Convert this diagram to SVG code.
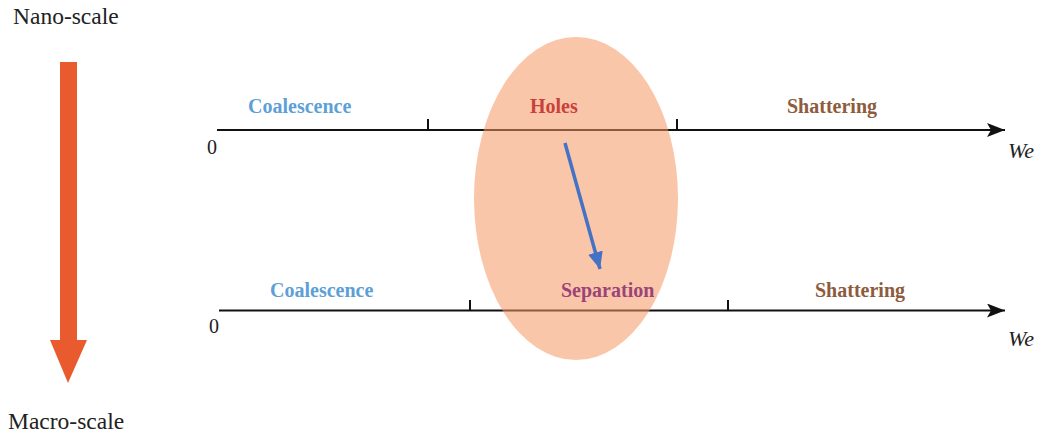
<svg xmlns="http://www.w3.org/2000/svg" width="1038" height="435" viewBox="0 0 1038 435">
<style>
.t{font-family:"Liberation Serif","Times New Roman",serif;fill:#222}
.b{font-family:"Liberation Serif","Times New Roman",serif;font-weight:bold;font-size:20px}
.ax{stroke:#111;stroke-width:2;fill:none}
.coal{fill:#5E9FD6}.hole{fill:#C8413B}.shat{fill:#8E5B3B}.sep{fill:#9C4477}
</style>
<defs>
<marker id="ah" markerWidth="18" markerHeight="14" refX="18" refY="7" orient="auto" markerUnits="userSpaceOnUse">
<path d="M0,0 L18,7 L0,14 L4,7 Z" fill="#111"/>
</marker>
<marker id="bh" markerWidth="17" markerHeight="15" refX="17" refY="7.5" orient="auto" markerUnits="userSpaceOnUse">
<path d="M0,0 L17,7.5 L0,15 Z" fill="#4472C4"/>
</marker>
</defs>
<rect width="1038" height="435" fill="#fff"/>
<g id="scale-arrow">
<text class="t" x="13" y="24" font-size="23.5">Nano-scale</text>
<path d="M60,62 H77 V340 H87 L68,383 L50,340 H60 Z" fill="#EA5A2F"/>
<text class="t" x="8" y="429" font-size="23.5">Macro-scale</text>
</g>
<g id="connectors">
<line class="ax" x1="217" y1="130" x2="1005" y2="130" marker-end="url(#ah)"/>
<line class="ax" x1="428" y1="119" x2="428" y2="130"/>
<line class="ax" x1="677" y1="119" x2="677" y2="130"/>
<line class="ax" x1="219" y1="310.5" x2="1005" y2="310.5" marker-end="url(#ah)"/>
<line class="ax" x1="470" y1="300" x2="470" y2="310.5"/>
<line class="ax" x1="728" y1="300" x2="728" y2="310.5"/>
</g>
<g id="overlap-region">
<ellipse cx="576" cy="198.5" rx="102" ry="161.5" fill="#F69764" fill-opacity="0.55"/>
</g>
<g id="top-axis-labels">
<text class="t" x="207" y="154" font-size="20">0</text>
<text class="t" x="1008" y="158" font-size="22" font-style="italic">We</text>
<text class="b coal" x="248" y="113">Coalescence</text>
<text class="b hole" x="530" y="113">Holes</text>
<text class="b shat" x="787" y="113">Shattering</text>
</g>
<g id="bottom-axis-labels">
<text class="t" x="209" y="333" font-size="20">0</text>
<text class="t" x="1008" y="346" font-size="22" font-style="italic">We</text>
<text class="b coal" x="270" y="297">Coalescence</text>
<text class="b sep" x="561" y="297">Separation</text>
<text class="b shat" x="815" y="297">Shattering</text>
</g>
<g id="transition-arrow">
<line x1="565" y1="143" x2="600" y2="269" stroke="#4472C4" stroke-width="3.5" marker-end="url(#bh)"/>
</g>
</svg>
